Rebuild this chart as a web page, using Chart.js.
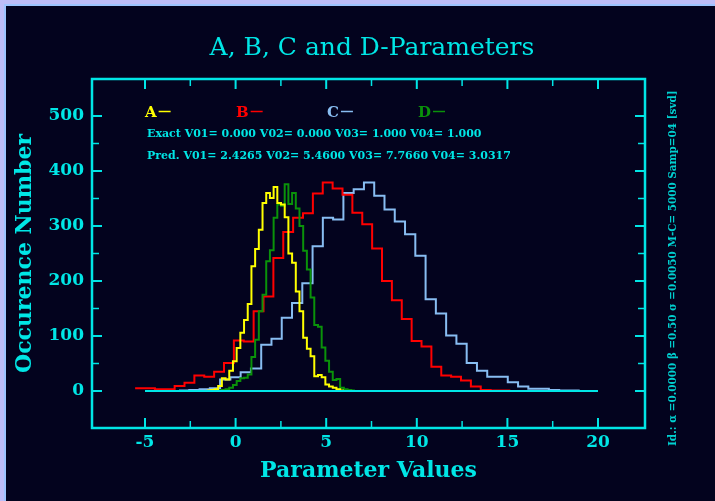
<!DOCTYPE html>
<html>
<head>
<meta charset="utf-8">
<script src="https://cdn.jsdelivr.net/npm/chart.js@4.4.0/dist/chart.umd.min.js"></script>
<style>
  html, body { margin: 0; padding: 0; background: #bdbdf8; overflow: hidden; }
  #histChart { display: block; }
</style>
</head>
<body>
<canvas id="histChart" width="715" height="501"></canvas>
<script>
// histogram bins: first bin edge, bin width and counts per bin
const aStart = -1.574, aWidth = 0.204;
const aCounts = [1, 2, 3, 9, 23, 21, 37, 54, 78, 106, 129, 158, 227, 258, 293, 342, 360, 351, 371, 342,
                 339, 316, 250, 233, 181, 145, 97, 77, 63, 27, 29, 25, 12, 8, 6, 3, 1];

const bStart = -5.545, bWidth = 0.545;
const bCounts = [5, 5, 3, 3, 9, 15, 28, 26, 35, 51, 92, 90, 145, 172, 242, 289, 315, 323, 359, 379,
                 368, 357, 324, 303, 259, 200, 165, 131, 91, 81, 44, 28, 26, 19, 8, 2, 1, 1];

const cStart = -3.123, cWidth = 0.567;
const cCounts = [1, 2, 3, 5, 21, 25, 34, 41, 84, 95, 133, 160, 196, 263, 315, 312, 360, 367, 379, 355,
                 330, 308, 285, 246, 167, 141, 101, 86, 51, 37, 26, 26, 16, 8, 4, 4, 2, 1, 1];

const dStart = -0.962, dWidth = 0.204;
const dCounts = [1, 2, 3, 6, 11, 18, 23, 24, 30, 62, 93, 145, 175, 236, 256, 315, 339, 337, 376, 340,
                 360, 332, 300, 255, 221, 170, 120, 117, 79, 55, 35, 20, 22, 6, 3, 2, 1];

const zeroLine = [-5, 20];
const xTicks = [-5, 0, 5, 10, 15, 20];
const yTicks = [0, 100, 200, 300, 400, 500];

const seriesNames = ['A', 'B', 'C', 'D'];
const seriesColors = ['#ffff00', '#ff0000', '#88bdf2', '#0a920a'];
const exactLine = 'Exact V01= 0.000 V02= 0.000 V03= 1.000 V04= 1.000';
const predLine = 'Pred. V01= 2.4265 V02= 5.4600 V03= 7.7660 V04= 3.0317';
const sideNote = 'Id.: \u03b1 =0.0000 \u03b2 =0.50 \u03c3 =0.0050 M-C= 5000 Samp=04 [svd]';

const cyan = '#00e6e6';
const bg = '#03031e';

function steps(start, width, counts) {
    const pts = counts.map((c, i) => ({ x: start + i * width, y: c }));
    pts.push({ x: start + counts.length * width, y: counts[counts.length - 1] });
    return pts;
}

function histSet(label, data, color, order) {
    return { label, data, borderColor: color, borderWidth: 2, stepped: true,
             pointRadius: 0, fill: false, tension: 0, order };
}

// dark panel with the light frame round it
const panel = {
    id: 'panel',
    beforeDraw(chart) {
        const ctx = chart.ctx;
        ctx.save();
        ctx.fillStyle = '#bdbdf8';
        ctx.fillRect(0, 0, 715, 501);
        ctx.fillStyle = '#9cc4ff';
        ctx.fillRect(4, 4, 711, 497);
        ctx.fillStyle = bg;
        ctx.fillRect(6, 6, 709, 495);
        ctx.restore();
    }
};

// box, inward ticks and the texts
const decor = {
    id: 'decor',
    afterDraw(chart) {
        const { ctx, chartArea: a, scales: { x, y } } = chart;
        ctx.save();
        ctx.strokeStyle = cyan;
        ctx.lineWidth = 2.5;
        ctx.strokeRect(a.left, a.top, a.right - a.left, a.bottom - a.top);

        const tick = (x1, y1, x2, y2, w) => {
            ctx.lineWidth = w;
            ctx.beginPath(); ctx.moveTo(x1, y1); ctx.lineTo(x2, y2); ctx.stroke();
        };
        x.ticks.forEach((t, i) => {
            const px = x.getPixelForValue(t.value);
            tick(px, a.bottom, px, a.bottom - 10, 2);
            tick(px, a.top, px, a.top + 10, 2);
            if (i < x.ticks.length - 1) {
                const mx = x.getPixelForValue((t.value + x.ticks[i + 1].value) / 2);
                tick(mx, a.bottom, mx, a.bottom - 7, 1.5);
                tick(mx, a.top, mx, a.top + 7, 1.5);
            }
        });
        y.ticks.forEach((t, i) => {
            const py = y.getPixelForValue(t.value);
            tick(a.left, py, a.left + 10, py, 2);
            tick(a.right, py, a.right - 10, py, 2);
            if (i < y.ticks.length - 1) {
                const my = y.getPixelForValue((t.value + y.ticks[i + 1].value) / 2);
                tick(a.left, my, a.left + 7, my, 1.5);
                tick(a.right, my, a.right - 7, my, 1.5);
            }
        });

        ctx.fillStyle = cyan;
        ctx.textAlign = 'center';
        ctx.textBaseline = 'alphabetic';
        ctx.font = '25px "DejaVu Serif"';
        ctx.fillText('A, B, C and D-Parameters', 372, 55);

        // legend letters with a short dash in the series colour
        const legendX = [145, 236, 327, 418];
        ctx.textAlign = 'left';
        ctx.font = 'bold 15px "DejaVu Serif"';
        seriesNames.forEach((n, i) => {
            ctx.fillStyle = seriesColors[i];
            ctx.fillText(n, legendX[i], 117);
            const w = ctx.measureText(n).width;
            ctx.strokeStyle = seriesColors[i];
            tick(legendX[i] + w + 2, 111.5, legendX[i] + w + 14, 111.5, 1.5);
        });

        ctx.fillStyle = cyan;
        ctx.font = 'bold 11px "DejaVu Serif"';
        ctx.fillText(exactLine, 147, 137);
        ctx.fillText(predLine, 147, 159);

        ctx.save();
        ctx.translate(676, 446);
        ctx.rotate(-Math.PI / 2);
        ctx.fillStyle = '#00d0d0';
        ctx.font = 'bold 10.4px "DejaVu Serif"';
        ctx.fillText(sideNote, 0, 0);
        ctx.restore();
        ctx.restore();
    }
};

const ctx = document.getElementById('histChart').getContext('2d');

const histChart = new Chart(ctx, {
    type: 'line',
    data: {
        datasets: [
            { label: 'zero', data: zeroLine.map(v => ({ x: v, y: 0 })), borderColor: cyan,
              borderWidth: 2, pointRadius: 0, fill: false, order: 0 },
            histSet('A', steps(aStart, aWidth, aCounts), seriesColors[0], 1),
            histSet('D', steps(dStart, dWidth, dCounts), seriesColors[3], 2),
            histSet('B', steps(bStart, bWidth, bCounts), seriesColors[1], 3),
            histSet('C', steps(cStart, cWidth, cCounts), seriesColors[2], 4)
        ]
    },
    options: {
        responsive: false,
        animation: false,
        devicePixelRatio: 1,
        layout: { padding: { top: 79, right: 70, left: 0, bottom: 0 } },
        plugins: { legend: { display: false }, title: { display: false }, tooltip: { enabled: false } },
        scales: {
            x: {
                type: 'linear', min: -7.925, max: 22.594,
                afterBuildTicks: s => { s.ticks = xTicks.map(v => ({ value: v })); },
                afterFit: s => { s.height = 73; },
                grid: { display: false, drawTicks: false },
                border: { display: false },
                ticks: { color: cyan, padding: 4, font: { family: 'DejaVu Serif', size: 17, weight: 'bold' } },
                title: { display: true, text: 'Parameter Values', color: cyan,
                         font: { family: 'DejaVu Serif', size: 22, weight: 'bold' }, padding: { top: 0, bottom: 17 } }
            },
            y: {
                type: 'linear', min: -67.27, max: 567.27,
                afterBuildTicks: s => { s.ticks = yTicks.map(v => ({ value: v })); },
                afterFit: s => { s.width = 92; },
                grid: { display: false, drawTicks: false },
                border: { display: false },
                ticks: { color: cyan, padding: 8, font: { family: 'DejaVu Serif', size: 17, weight: 'bold' } },
                title: { display: true, text: 'Occurence Number', color: cyan,
                         font: { family: 'DejaVu Serif', size: 22, weight: 'bold' }, padding: { top: 12, bottom: 0 } }
            }
        }
    },
    plugins: [panel, decor]
});
</script>
</body>
</html>
